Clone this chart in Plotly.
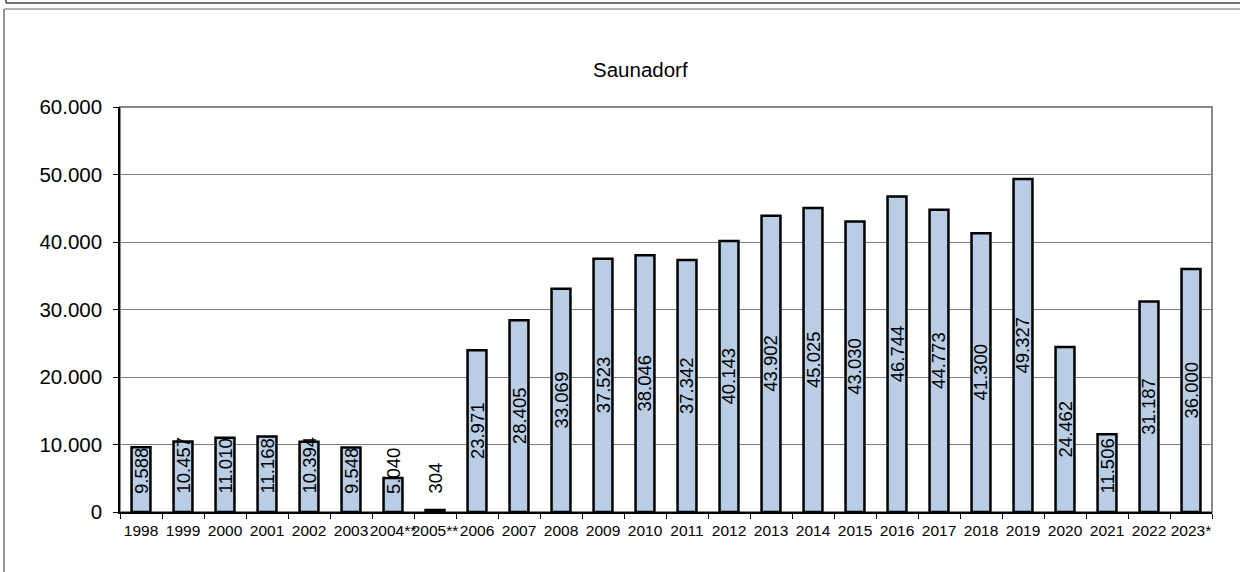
import plotly.graph_objects as go

years = ["1998", "1999", "2000", "2001", "2002", "2003", "2004**", "2005**",
         "2006", "2007", "2008", "2009", "2010", "2011", "2012", "2013",
         "2014", "2015", "2016", "2017", "2018", "2019", "2020", "2021",
         "2022", "2023*"]
visitors = [9588, 10457, 11010, 11168, 10394, 9548, 5040, 304,
            23971, 28405, 33069, 37523, 38046, 37342, 40143, 43902,
            45025, 43030, 46744, 44773, 41300, 49327, 24462, 11506,
            31187, 36000]
y_ticks = [0, 10000, 20000, 30000, 40000, 50000, 60000]

W, H = 1240, 572
L, R, T, B = 120, 28, 107, 60
plot_w = W - L - R
plot_h = H - T - B
ymax = 60000
per_px = ymax / plot_h

FONT = "Arial, Liberation Sans, sans-serif"
LABEL_SIZE = 18.5


def fmt(v):
    return f"{v:,}".replace(",", ".")


def px_x(px):
    return (px - L) / plot_w


def px_y(py):
    return (H - B - py) / plot_h


fig = go.Figure()
fig.add_trace(go.Bar(
    x=years, y=visitors,
    width=0.45,
    marker=dict(color="#B9CDE5", line=dict(color="#000000", width=2.5)),
    hoverinfo="x+y",
))

annotations = []
min_base = 17 * per_px
for i, v in enumerate(visitors):
    txt = fmt(v)
    n_dig = sum(c.isdigit() for c in txt)
    n_dot = txt.count(".")
    half_len = (n_dig * 0.556 + n_dot * 0.278) * LABEL_SIZE / 2 * per_px
    if v / 2 - half_len < min_base:
        ypos, yanc = min_base, "bottom"
    else:
        ypos, yanc = v / 2, "middle"
    annotations.append(dict(
        x=i, y=ypos, xref="x", yref="y", text=txt, showarrow=False,
        textangle=-90, yanchor=yanc, xanchor="center", borderpad=0,
        font=dict(family=FONT, size=LABEL_SIZE, color="#000000"),
    ))

annotations.append(dict(
    x=px_x(640), y=px_y(70), xref="paper", yref="paper", text="Saunadorf",
    showarrow=False, xanchor="center", yanchor="middle",
    font=dict(family=FONT, size=20.5, color="#000000"),
))

shapes = [
    # outer frames
    dict(type="line", xref="paper", yref="paper", x0=px_x(6), x1=px_x(W + 5),
         y0=px_y(3), y1=px_y(3), line=dict(color="#444444", width=1.5)),
    dict(type="line", xref="paper", yref="paper", x0=px_x(6), x1=px_x(6),
         y0=px_y(-5), y1=px_y(3), line=dict(color="#444444", width=1.5)),
    dict(type="line", xref="paper", yref="paper", x0=px_x(4), x1=px_x(W + 5),
         y0=px_y(9), y1=px_y(9), line=dict(color="#999999", width=1.5)),
    dict(type="line", xref="paper", yref="paper", x0=px_x(4), x1=px_x(4),
         y0=px_y(9), y1=px_y(H + 5), line=dict(color="#777777", width=1.5)),
    # plot area border (gray)
    dict(type="rect", xref="paper", yref="paper", x0=0, x1=1, y0=0, y1=1,
         line=dict(color="#888888", width=2), layer="below"),
]

fig.update_layout(
    width=W, height=H,
    margin=dict(l=L, r=R, t=T, b=B, autoexpand=False),
    paper_bgcolor="white", plot_bgcolor="white",
    separators=",.",
    showlegend=False,
    annotations=annotations,
    shapes=shapes,
    font=dict(family=FONT, color="#000000"),
)
fig.update_xaxes(
    type="category", range=[-0.5, len(years) - 0.5],
    showline=True, linecolor="#000000", linewidth=1.5,
    ticks="outside", tickson="boundaries", ticklen=5, tickcolor="#000000",
    tickwidth=1, showgrid=False, tickfont=dict(family=FONT, size=15.5),
    tickangle=0, ticklabelstandoff=4,
)
fig.update_yaxes(
    range=[0, ymax], tickvals=y_ticks, tickformat=",d",
    showline=True, linecolor="#000000", linewidth=1.5,
    ticks="outside", ticklen=5, tickcolor="#000000", tickwidth=1,
    showgrid=True, gridcolor="#808080", gridwidth=1,
    zeroline=False, tickfont=dict(family=FONT, size=20.5),
    ticklabelstandoff=7,
)

fig.write_html(
    "out.html",
    config={"displayModeBar": False},
    post_script="document.body.style.margin='0';document.body.style.overflow='hidden';",
)
